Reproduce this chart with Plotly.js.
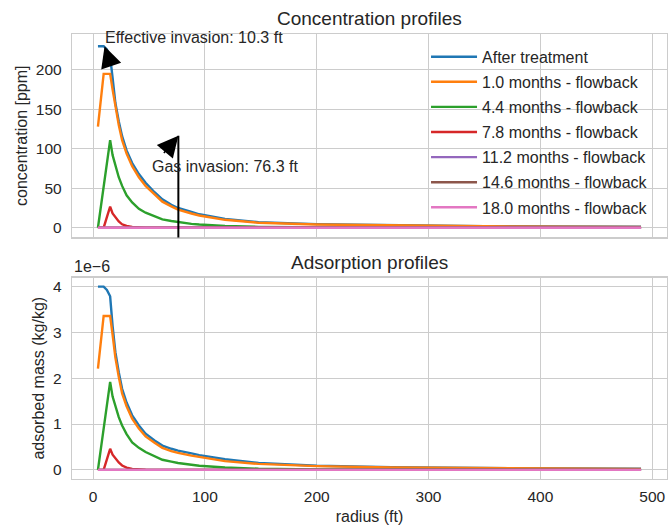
<!DOCTYPE html>
<html>
<head>
<meta charset="utf-8">
<script src="https://cdn.plot.ly/plotly-3.0.1.min.js"></script>
<style>html,body{margin:0;padding:0;background:#fff;}#chart{width:669px;height:527px;}</style>
</head>
<body>
<div id="chart"></div>
<script>
// radius grid (ft)
const radius = [4.4, 9.5, 12.4, 15.3, 17.5, 20, 23, 26, 30, 35, 41, 47, 55, 62, 70, 76, 88, 95, 118, 148, 200, 267, 350, 420, 490];

const seriesNames = ["After treatment", "1.0 months - flowback", "4.4 months - flowback", "7.8 months - flowback",
                     "11.2 months - flowback", "14.6 months - flowback", "18.0 months - flowback"];
const seriesColors = ["#1f77b4", "#ff7f0e", "#2ca02c", "#d62728", "#9467bd", "#8c564b", "#e377c2"];

// concentration [ppm]
const concAfter = [230, 230, 226, 217, 190, 158, 135, 116, 98, 82, 68, 57, 45, 36, 29, 25, 20, 17, 11, 7, 4.5, 3, 2, 1.6, 1.3];
const conc1_0   = [128, 195, 195, 195, 175, 152, 130, 111, 94, 78, 64, 53, 42, 33, 27, 23, 18, 15.5, 10, 6.3, 4, 2.7, 1.8, 1.4, 1.1];
const conc4_4   = [0, 52, 81, 111, 92, 78, 64, 53, 41, 32, 24, 19, 14, 10.6, 8.5, 7, 4.8, 4, 2.2, 1.1, 0.4, 0.1, 0, 0, 0];
const conc7_8   = [0, 0, 13.3, 26.6, 18, 12.7, 8, 4.3, 2.2, 1, 0.4, 0.1, 0, 0, 0, 0, 0, 0, 0, 0, 0, 0, 0, 0, 0];
const conc11_2  = [0, 0, 0, 0, 0, 0, 0, 0, 0, 0, 0, 0, 0, 0, 0, 0, 0, 0, 0, 0, 0, 0, 0, 0, 0];
const conc14_6  = [0, 0, 0, 0, 0, 0, 0, 0, 0, 0, 0, 0, 0, 0, 0, 0, 0, 0, 0, 0, 0, 0, 0, 0, 0];
const conc18_0  = [0, 0, 0, 0, 0, 0, 0, 0, 0, 0, 0, 0, 0, 0, 0, 0, 0, 0, 0, 0, 0, 0, 0, 0, 0];

// adsorbed mass (kg/kg), in units of 1e-6
const adsAfter = [4.0, 4.0, 3.93, 3.79, 3.14, 2.57, 2.13, 1.77, 1.47, 1.19, 0.97, 0.79, 0.64, 0.53, 0.46, 0.42, 0.36, 0.32, 0.23, 0.15, 0.09, 0.06, 0.04, 0.03, 0.025];
const ads1_0   = [2.21, 3.36, 3.36, 3.36, 2.95, 2.45, 2.03, 1.67, 1.39, 1.12, 0.9, 0.73, 0.59, 0.48, 0.41, 0.37, 0.31, 0.28, 0.19, 0.13, 0.08, 0.05, 0.035, 0.025, 0.02];
const ads4_4   = [0, 0.9, 1.41, 1.92, 1.6, 1.37, 1.15, 0.97, 0.78, 0.6, 0.48, 0.39, 0.29, 0.22, 0.18, 0.15, 0.11, 0.09, 0.05, 0.025, 0.01, 0.003, 0, 0, 0];
const ads7_8   = [0, 0, 0.23, 0.46, 0.33, 0.24, 0.16, 0.095, 0.05, 0.02, 0.008, 0.002, 0, 0, 0, 0, 0, 0, 0, 0, 0, 0, 0, 0, 0];
const ads11_2  = [0, 0, 0, 0, 0, 0, 0, 0, 0, 0, 0, 0, 0, 0, 0, 0, 0, 0, 0, 0, 0, 0, 0, 0, 0];
const ads14_6  = [0, 0, 0, 0, 0, 0, 0, 0, 0, 0, 0, 0, 0, 0, 0, 0, 0, 0, 0, 0, 0, 0, 0, 0, 0];
const ads18_0  = [0, 0, 0, 0, 0, 0, 0, 0, 0, 0, 0, 0, 0, 0, 0, 0, 0, 0, 0, 0, 0, 0, 0, 0, 0];

const effectiveInvasion = 10.3;
const effectiveConc = 230;
const gasInvasion = 76.3;

const concSeries = [concAfter, conc1_0, conc4_4, conc7_8, conc11_2, conc14_6, conc18_0];
const adsSeries = [adsAfter, ads1_0, ads4_4, ads7_8, ads11_2, ads14_6, ads18_0];

const FONT = "Liberation Sans, Arial, sans-serif";
const TXT = "#262626";
const traces = [];
concSeries.forEach((ys, i) => {
  traces.push({x: radius, y: ys, type: "scatter", mode: "lines", name: seriesNames[i],
    legendgroup: "g" + i, line: {color: seriesColors[i], width: 2.4}, xaxis: "x", yaxis: "y", hoverinfo: "skip"});
});
adsSeries.forEach((ys, i) => {
  traces.push({x: radius, y: ys, type: "scatter", mode: "lines", name: seriesNames[i], showlegend: false,
    legendgroup: "g" + i, line: {color: seriesColors[i], width: 2.4}, xaxis: "x2", yaxis: "y2", hoverinfo: "skip"});
});

const gridC = "#cccccc";
const axBase = {showgrid: true, gridcolor: gridC, gridwidth: 1, zeroline: false, showline: true, mirror: true,
  linecolor: gridC, linewidth: 1.2, ticks: "", tickfont: {family: FONT, size: 15.5, color: TXT}};

const layout = {
  width: 669, height: 527,
  paper_bgcolor: "#fff", plot_bgcolor: "#fff",
  margin: {l: 72, r: 2, t: 34, b: 48},
  showlegend: true,
  legend: {x: 0.595, y: 0.987, xanchor: "left", yanchor: "top", bgcolor: "rgba(0,0,0,0)",
    font: {family: FONT, size: 16, color: TXT}, tracegroupgap: 1.3, itemwidth: 46, traceorder: "grouped"},
  xaxis: Object.assign({}, axBase, {domain: [0, 1], anchor: "y", range: [-18.8, 513.2], dtick: 100, showticklabels: false, matches: "x2"}),
  yaxis: Object.assign({}, axBase, {domain: [0.5427, 1], anchor: "x", range: [-12.4, 245.5], dtick: 50, ticklabelstandoff: 6,
    title: {text: "concentration [ppm]", font: {family: FONT, size: 16, color: TXT}, standoff: 4}}),
  xaxis2: Object.assign({}, axBase, {domain: [0, 1], anchor: "y2", range: [-18.8, 513.2], dtick: 100, ticklabelstandoff: 3,
    title: {text: "radius (ft)", font: {family: FONT, size: 16, color: TXT}, standoff: 7}}),
  yaxis2: Object.assign({}, axBase, {domain: [0, 0.4528], anchor: "x2", range: [-0.2, 4.2], dtick: 1, ticklabelstandoff: 6,
    title: {text: "adsorbed mass (kg/kg)", font: {family: FONT, size: 16, color: TXT}, standoff: 4}}),
  shapes: [
    {type: "line", xref: "x", yref: "y domain", x0: gasInvasion, x1: gasInvasion, y0: 0, y1: 0.5,
     line: {color: "#000", width: 2}}
  ],
  annotations: [
    {text: "Concentration profiles", xref: "x domain", yref: "y domain", x: 0.5, y: 1, xanchor: "center", yanchor: "bottom",
     yshift: 3, showarrow: false, font: {family: FONT, size: 19, color: TXT}},
    {text: "Adsorption profiles", xref: "x2 domain", yref: "y2 domain", x: 0.5, y: 1, xanchor: "center", yanchor: "bottom",
     yshift: 3, showarrow: false, font: {family: FONT, size: 19, color: TXT}},
    {text: "1e\u22126", xref: "x2 domain", yref: "y2 domain", x: 0, y: 1, xanchor: "left", yanchor: "bottom",
     yshift: 1, showarrow: false, font: {family: FONT, size: 16, color: TXT}},
    {text: "Effective invasion: 10.3 ft", xref: "x", yref: "y", x: 8.7, y: 240.6, xanchor: "left", yanchor: "middle",
     showarrow: false, font: {family: FONT, size: 16, color: TXT}},
    {text: "Gas invasion: 76.3 ft", xref: "x", yref: "y", x: 50.8, y: 77, xanchor: "left", yanchor: "middle",
     showarrow: false, font: {family: FONT, size: 16, color: TXT}},
    {text: " ", xref: "x", yref: "y", x: effectiveInvasion, y: effectiveConc, showarrow: true, ax: 7, ay: 21,
     arrowhead: 2, arrowsize: 2.8, arrowwidth: 1.5, arrowcolor: "#000", font: {size: 1}},
    {text: " ", xref: "x", yref: "y domain", x: gasInvasion, y: 0.5, showarrow: true, ax: -16, ay: 19,
     arrowhead: 2, arrowsize: 2.8, arrowwidth: 1.5, arrowcolor: "#000", font: {size: 1}}
  ]
};

Plotly.newPlot("chart", traces, layout, {displayModeBar: false, staticPlot: true});
</script>
</body>
</html>
